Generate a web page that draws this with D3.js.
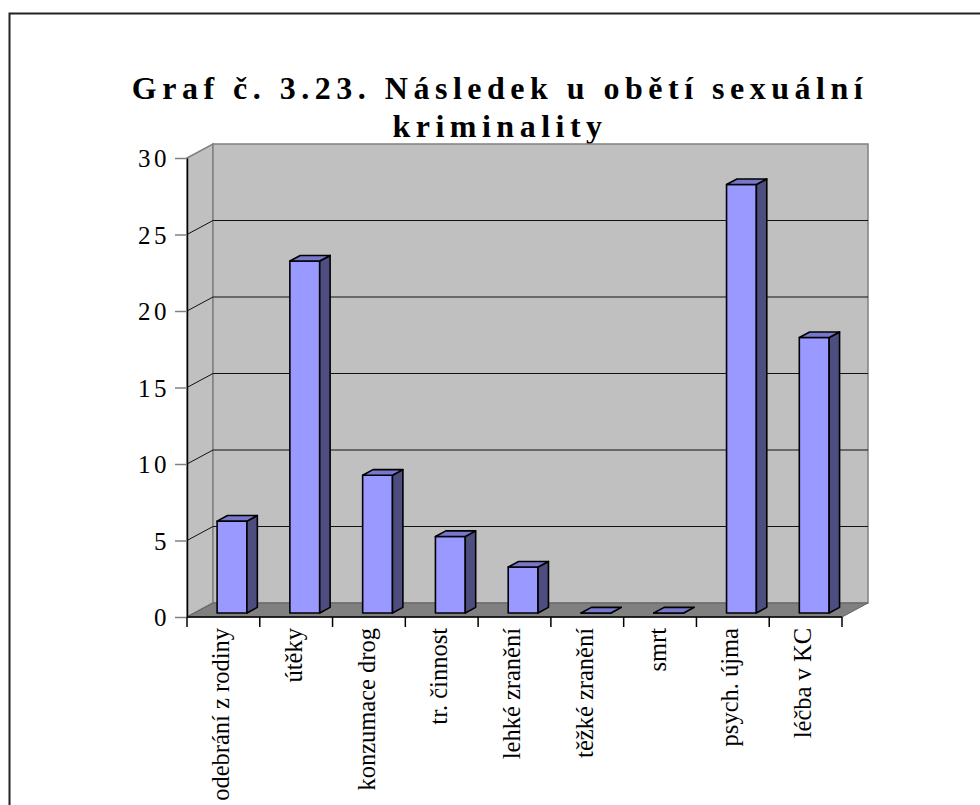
<!DOCTYPE html>
<html>
<head>
<meta charset="utf-8">
<script src="https://cdn.jsdelivr.net/npm/d3@7/dist/d3.min.js"></script>
<style>
  html, body { margin: 0; padding: 0; background: #fff; }
  svg { display: block; }
  svg text { font-family: "Liberation Serif", "Times New Roman", Times, "DejaVu Serif", serif; }
</style>
</head>
<body>
<svg id="chart" width="980" height="805"></svg>
<script>
const categories = ["odebrání z rodiny", "útěky", "konzumace drog", "tr. činnost", "lehké zranění", "těžké zranění", "smrt", "psych. újma", "léčba v KC"];
const values = [6, 23, 9, 5, 3, 0, 0, 28, 18];
const yTicks = [0, 5, 10, 15, 20, 25, 30];
const titleLines = ["Graf č. 3.23. Následek u obětí sexuální", "kriminality"];

const svg = d3.select("#chart");

// outer frame
svg.append("rect")
  .attr("x", 9.5).attr("y", 13.5).attr("width", 1000).attr("height", 1000)
  .attr("fill", "none").attr("stroke", "#222").attr("stroke-width", 2);

// title
svg.append("g").selectAll("text").data(titleLines).join("text")
  .attr("x", 500).attr("y", (d, i) => 99 + i * 38)
  .attr("text-anchor", "middle")
  .attr("font-weight", "bold")
  .attr("font-size", 32).attr("letter-spacing", 5.5)
  .attr("fill", "#000")
  .text(d => d);

const x = d3.scaleBand().domain(categories).range([187, 842]).padding(0);
const y = d3.scaleLinear().domain([0, 30]).range([617, 158]);
const DX = 26, DY = -14;
const x0 = x.range()[0], x1 = x.range()[1];
const yB = y(0), yT = y(30);

const pts = a => a.map(p => p.join(",")).join(" ");

// left wall
svg.append("polygon")
  .attr("points", pts([[x0, yT], [x0 + DX, yT + DY], [x0 + DX, yB + DY], [x0, yB]]))
  .attr("fill", "#c0c0c0").attr("stroke", "#808080").attr("stroke-width", 1.5);
// back wall
svg.append("polygon")
  .attr("points", pts([[x0 + DX, yT + DY], [x1 + DX, yT + DY], [x1 + DX, yB + DY], [x0 + DX, yB + DY]]))
  .attr("fill", "#c0c0c0").attr("stroke", "#808080").attr("stroke-width", 1.5);
// floor
svg.append("polygon")
  .attr("points", pts([[x0, yB], [x0 + DX, yB + DY], [x1 + DX, yB + DY], [x1, yB]]))
  .attr("fill", "#808080").attr("stroke", "#606060").attr("stroke-width", 1);

// gridlines
const grid = svg.append("g").attr("stroke", "#111").attr("stroke-width", 1).attr("fill", "none");
grid.selectAll("path").data(yTicks.filter(t => t > 0 && t < 30)).join("path")
  .attr("d", t => `M${x0},${y(t)}L${x0 + DX},${y(t) + DY}L${x1 + DX},${y(t) + DY}`);

// y axis
const yAxis = svg.append("g").attr("transform", `translate(${x0},0)`)
  .call(d3.axisLeft(y).tickValues(yTicks).tickSize(12).tickSizeOuter(0).tickPadding(5));
yAxis.attr("font-family", null);
yAxis.select(".domain").attr("stroke", "#000").attr("stroke-width", 1.5);
yAxis.selectAll(".tick line").attr("stroke", "#808080").attr("stroke-width", 1.5);
yAxis.selectAll(".tick text")
  .attr("font-size", 25).attr("letter-spacing", 3.5)
  .attr("fill", "#000").attr("dy", "0.35em");

// x axis baseline and boundary ticks
svg.append("line").attr("x1", x0).attr("x2", x1).attr("y1", yB).attr("y2", yB)
  .attr("stroke", "#000").attr("stroke-width", 1.5);
const bounds = categories.map(c => x(c)).concat([x1]);
svg.append("g").selectAll("line").data(bounds).join("line")
  .attr("x1", d => d).attr("x2", d => d).attr("y1", yB).attr("y2", yB + 10)
  .attr("stroke", "#000").attr("stroke-width", 1.5);

// category labels
svg.append("g").selectAll("text").data(categories).join("text")
  .attr("transform", d => `translate(${x(d) + x.bandwidth() / 2 - 3},628) rotate(-90)`)
  .attr("text-anchor", "end").attr("dy", "0.35em")
  .attr("font-size", 24.5).attr("fill", "#000")
  .text(d => d);

// bars
const fF = 0.29, fB = 0.69;
const bw = x.bandwidth();
const bars = svg.append("g").attr("stroke", "#000").attr("stroke-width", 1.6).attr("stroke-linejoin", "round");
const data = categories.map((c, i) => ({ c, v: values[i] }));
const bg = bars.selectAll("g").data(data).join("g");
const geom = d => {
  const l = x(d.c) + bw * 0.31 + DX * fF;
  const r = l + bw * 0.41;
  const b = y(0) + DY * fF;
  const t = y(d.v) + DY * fF;
  const ox = DX * (fB - fF), oy = DY * (fB - fF);
  return { l, r, b, t, ox, oy };
};
bg.append("polygon").attr("fill", "#9999ff")
  .attr("points", d => { const g = geom(d); return pts([[g.l, g.t], [g.r, g.t], [g.r, g.b], [g.l, g.b]]); });
bg.append("polygon").attr("fill", "#4d4d80")
  .attr("points", d => { const g = geom(d); return pts([[g.r, g.t], [g.r + g.ox, g.t + g.oy], [g.r + g.ox, g.b + g.oy], [g.r, g.b]]); });
bg.append("polygon").attr("fill", "#7777cc")
  .attr("points", d => { const g = geom(d); return pts([[g.l, g.t], [g.l + g.ox, g.t + g.oy], [g.r + g.ox, g.t + g.oy], [g.r, g.t]]); });
</script>
</body>
</html>
